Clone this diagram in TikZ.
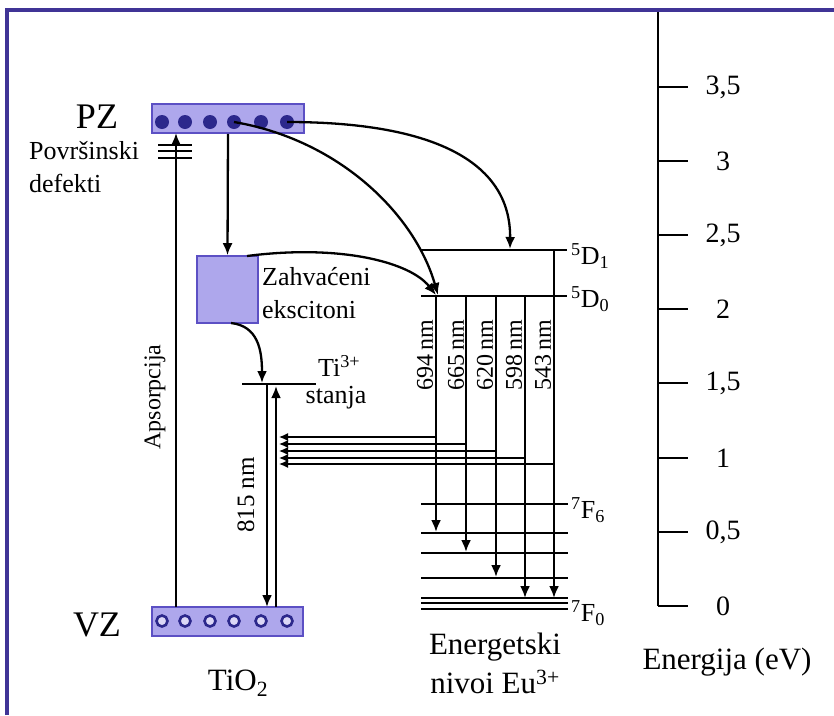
\documentclass[tikz,border=0pt]{standalone}
\usepackage{fontspec}
\setmainfont{Liberation Serif}
\usetikzlibrary{arrows.meta}
\definecolor{bandfill}{RGB}{174,167,236}
\definecolor{bandborder}{RGB}{92,80,196}
\definecolor{dotcol}{RGB}{44,40,140}
\definecolor{framecol}{RGB}{64,52,150}
\begin{document}
\begin{tikzpicture}[x=1pt,y=-1pt]
\tikzset{
  lvl/.style={line width=2.8pt},
  arr/.style={line width=2.3pt,-{Latex[length=12pt,width=10pt]}},
  backarr/.style={line width=1.3pt,-{Latex[length=9pt,width=8pt]}},
  band/.style={draw=bandborder,fill=bandfill,line width=1.6pt,inner sep=0pt},
  edot/.style={circle,fill=dotcol,inner sep=0pt,minimum size=14pt},
  hole/.style={circle,draw=dotcol,fill=white!55!bandfill,line width=2.6pt,inner sep=0pt,minimum size=11pt},
  txt/.style={inner sep=0pt,font=\fontsize{26}{29}\selectfont},
  bigtxt/.style={inner sep=0pt,font=\fontsize{36}{39}\selectfont},
  midtxt/.style={inner sep=0pt,font=\fontsize{31}{35}\selectfont},
  wl/.style={inner sep=0pt,rotate=90,font=\fontsize{24}{26}\selectfont},
  ticklbl/.style={inner sep=0pt,font=\fontsize{28}{31}\selectfont},
}
\useasboundingbox (0,0) rectangle (834,715);
% frame
\coordinate (fTL) at (7,10);
\coordinate (fTR) at (834,10);
\coordinate (fBL) at (7,715);
\draw[framecol,line width=3.2pt] (fBL) -- (fTL) -- (fTR);

% bands
\node[band,minimum width=152pt,minimum height=29pt] (PZ) at (228,118.5) {};
\node[band,minimum width=151pt,minimum height=29pt] (VZ) at (227.5,621.5) {};
\node[band,minimum width=61pt,minimum height=67pt] (exc) at (227.5,289.5) {};
\foreach \i/\x in {1/162,2/185,3/210,4/234,5/261,6/287}{
  \node[edot] (e\i) at (\x,122) {};
  \node[hole] (h\i) at (\x,621) {};
}
\node[bigtxt] (lPZ) at (97,117) {PZ};
\node[bigtxt] (lVZ) at (97,625) {VZ};
\node[txt,anchor=west] (lpov) at (29,151) {Površinski};
\node[txt,anchor=west] (ldef) at (29,183) {defekti};

% surface defects
\foreach \y/\n in {145/a,151/b,158/c}{
  \coordinate (dl\n) at (158,\y); \coordinate (dr\n) at (192,\y);
  \draw[line width=2.4pt] (dl\n) -- (dr\n);
}

% absorption
\coordinate (absB) at (176,607);
\coordinate (absT) at (176,133);
\draw[arr] (absB) -- (absT);
\node[wl,font=\fontsize{24}{26}\selectfont] (labs) at (155,397) {Apsorpcija};

% PZ -> excitons
\draw[arr] (PZ.south) -- (exc.north);
\node[txt,anchor=west] (lzah) at (262,277) {Zahvaćeni};
\node[txt,anchor=west] (leks) at (262,310) {ekscitoni};

% Ti3+ level
\coordinate (tiL) at (242,384);
\coordinate (tiR) at (316,384);
\draw[lvl] (tiL) -- (tiR);
\node[txt,anchor=west] (lti) at (318,366) {Ti\textsuperscript{3+}};
\node[txt] (lsta) at (336,398) {stanja};
\coordinate (tihit) at (262,383);
\coordinate (excb) at (231,323);
\draw[arr] (excb) .. controls (258,326) and (262,350) .. (tihit);

% 815 nm
\coordinate (dn1) at (267,384);
\coordinate (dn2) at (267,607);
\coordinate (up1) at (276,607);
\coordinate (up2) at (276,386);
\draw[arr] (dn1) -- (dn2);
\draw[arr] (up1) -- (up2);
\node[wl,font=\fontsize{25}{27}\selectfont] (l815) at (246,495) {815 nm};

% Eu levels
\coordinate (D1L) at (421,250); \coordinate (D1R) at (567,250);
\coordinate (D0L) at (421,296); \coordinate (D0R) at (567,296);
\draw[lvl] (D1L) -- (D1R);
\draw[lvl] (D0L) -- (D0R);
\foreach \y/\n in {504/a,533/b,553/c,578/d,598/e,603/f,609/g}{
  \coordinate (FL\n) at (421,\y); \coordinate (FR\n) at (568,\y);
  \draw[lvl] (FL\n) -- (FR\n);
}
\node[txt,anchor=west] (lD1) at (571,256) {\textsuperscript{5}D\textsubscript{1}};
\node[txt,anchor=west] (lD0) at (571,299) {\textsuperscript{5}D\textsubscript{0}};
\node[txt,anchor=west] (lF6) at (571,510) {\textsuperscript{7}F\textsubscript{6}};
\node[txt,anchor=west] (lF0) at (571,613) {\textsuperscript{7}F\textsubscript{0}};

% curves to Eu
\coordinate (d1hit) at (510,249);
\coordinate (d0hitA) at (438,295);
\coordinate (d0hitB) at (436,295);
\draw[arr] (e6.center) .. controls (430,122) and (511,160) .. (d1hit);
\draw[arr] (e4.center) .. controls (340,140) and (415,215) .. (d0hitA);
\coordinate (exctop) at (247,256);
\draw[arr] (exctop) .. controls (340,244) and (410,262) .. (d0hitB);

% transitions
\foreach \i/\x/\ys/\ye/\yb/\lab/\lx in {1/436/296/532/437/694/425, 2/466/296/552/444/665/456, 3/496/296/577/451/620/485, 4/525/296/598/458/598/514, 5/554/250/598/464/543/543}{
  \coordinate (ts\i) at (\x,\ys);
  \coordinate (te\i) at (\x,\ye);
  \coordinate (tb\i) at (\x,\yb);
  \coordinate (tt\i) at (279,\yb);
  \draw[arr] (ts\i) -- (te\i);
  \draw[backarr] (tb\i) -- (tt\i);
  \node[wl] (lw\i) at (\lx,355) {\lab\,nm};
}

\node[midtxt] (lTiO) at (238,683) {TiO\textsubscript{2}};
\node[midtxt] (lEn1) at (495,647) {Energetski};
\node[midtxt] (lEn2) at (495,682) {nivoi Eu\textsuperscript{3+}};

% energy axis
\coordinate (axT) at (658,12);
\coordinate (axB) at (658,606);
\draw[line width=2.8pt] (axT) -- (axB);
\foreach \y/\l/\n in {87/{3,5}/a,161/3/b,235/{2,5}/c,309/2/d,383/{1,5}/e,458/1/f,532/{0,5}/g,606/0/h}{
  \coordinate (tk\n) at (658,\y); \coordinate (tke\n) at (688,\y);
  \draw[line width=2.8pt] (tk\n) -- (tke\n);
  \node[ticklbl] (tl\n) at (723,\y) {\l};
}
\node[midtxt] (lEnerg) at (727,662) {Energija (eV)};
\end{tikzpicture}
\end{document}
